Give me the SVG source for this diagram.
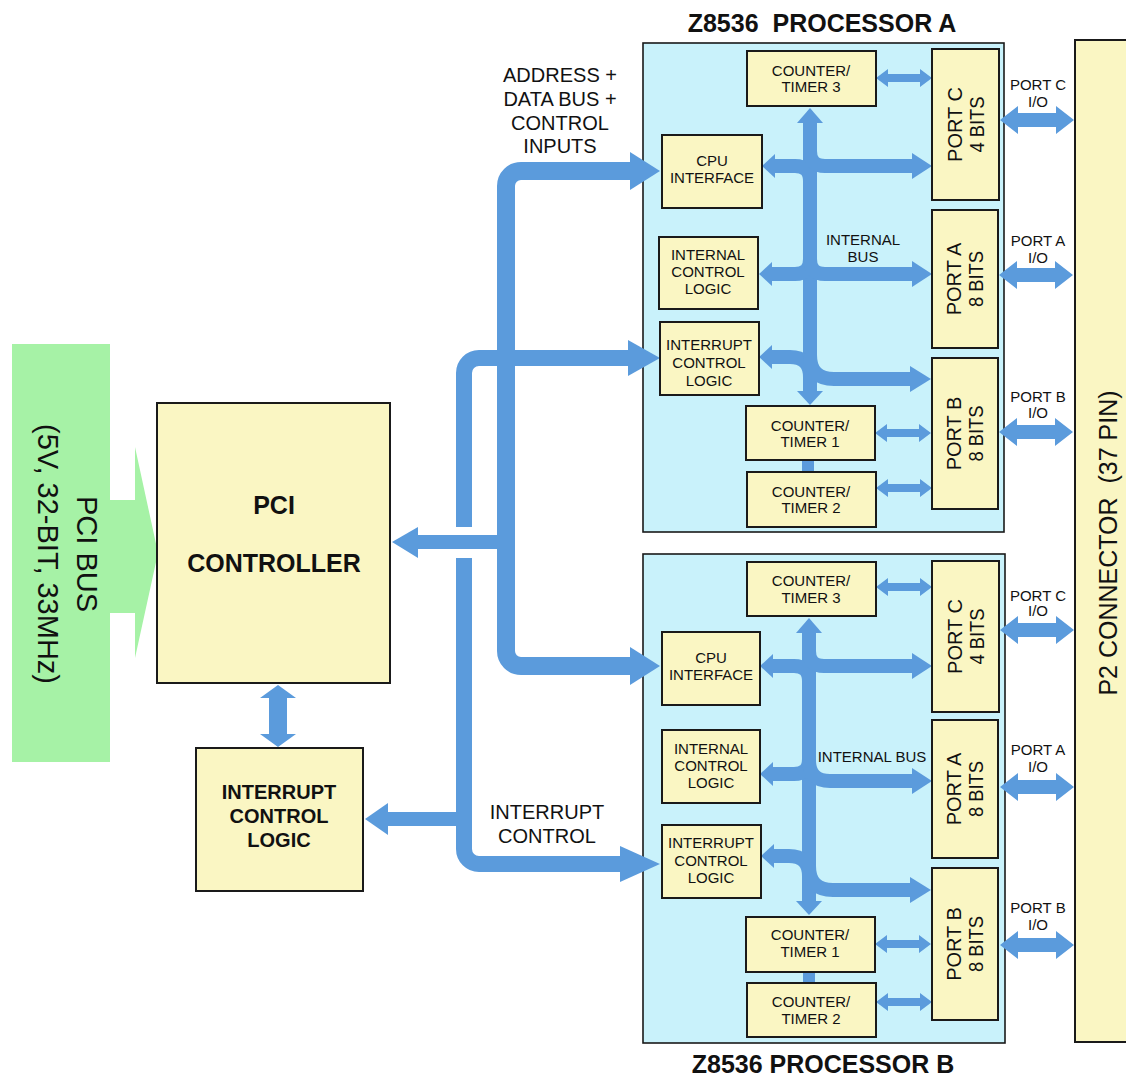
<svg xmlns="http://www.w3.org/2000/svg" width="1126" height="1076" viewBox="0 0 1126 1076">
<style>
.bl{fill:#5b9bdc}
.bus{fill:none;stroke:#5b9bdc}
.box{fill:#faf6c3;stroke:#1a1a1a;stroke-width:2}
.proc{fill:#c9f2fb;stroke:#1a1a1a;stroke-width:1.6}
text{font-family:"Liberation Sans",Arial,Helvetica,sans-serif;fill:#111;text-anchor:middle}
.s{font-size:15px}
.p{font-size:20px}
.m{font-size:20px}
.b{font-weight:bold}
</style>
<defs>
<path id="io" d="M0 0 L18 -14 L18 -7 L56 -7 L56 -14 L74 0 L56 14 L56 7 L18 7 L18 14 Z"/>
<path id="sm" d="M0 0 L12 -9 L12 -4 L44 -4 L44 -9 L56 0 L44 9 L44 4 L12 4 L12 9 Z"/>
</defs>
<rect width="1126" height="1076" fill="#ffffff"/>

<g id="pci-bus">
<rect x="12" y="344" width="98" height="418" fill="#a6f2a6"/>
<path d="M110 500 L135 500 L135 447 L158 553 L135 658 L135 613 L110 613 Z" fill="#a6f2a6"/>
<g transform="translate(68,554) rotate(90)">
<text class="p" x="0" y="-9" style="font-size:29px">PCI BUS</text>
<text class="p" x="0" y="30" style="font-size:29px">(5V, 32-BIT, 33MHz)</text>
</g>
</g>

<g id="processor-a-frame">
<rect class="proc" x="643" y="43" width="361" height="489"/>
<text class="b" x="822" y="32" style="font-size:25px" xml:space="preserve">Z8536  PROCESSOR A</text>
</g>
<g id="processor-b-frame">
<rect class="proc" x="643" y="554" width="362" height="489"/>
<text class="b" x="823" y="1073" style="font-size:25px">Z8536 PROCESSOR B</text>
</g>

<g id="connectors">
<!-- trunk A: address/data/control -->
<path class="bus" stroke-width="18" d="M634 171 H521 A15 15 0 0 0 506 186 V651 A15 15 0 0 0 521 666 H634"/>
<polygon class="bl" points="630,152 660,171 630,190"/>
<polygon class="bl" points="630,647 660,666 630,685"/>
<rect class="bl" x="416" y="535" width="82" height="14"/>
<polygon class="bl" points="418,527 392,542 418,558"/>
<!-- trunk B: interrupt -->
<path class="bus" stroke-width="16" d="M632 358 H479 A15 15 0 0 0 464 373 V527"/>
<path class="bus" stroke-width="16" d="M464 558 V849 A15 15 0 0 0 479 864 H624"/>
<polygon class="bl" points="628,340 660,358 628,376"/>
<polygon class="bl" points="620,846 660,864 620,882"/>
<rect class="bl" x="386" y="812" width="78" height="14"/>
<polygon class="bl" points="388,803 365,819 388,835"/>
<!-- PCI controller <-> interrupt logic -->
<path class="bl" d="M278 685 L296 698 L287 698 L287 734 L296 734 L278 747 L260 734 L269 734 L269 698 L260 698 Z"/>

<!-- processor A internal bus -->
<rect class="bl" x="803" y="120" width="14" height="274"/>
<polygon class="bl" points="797,123 810,108 823,123"/>
<polygon class="bl" points="797,391 810,405 823,391"/>
<path class="bus" stroke-width="14" d="M770 166 H795 Q810 166 810 181"/>
<path class="bus" stroke-width="14" d="M810 151 Q810 166 825 166 H914"/>
<polygon class="bl" points="912,153 932,166 912,179"/>
<polygon class="bl" points="775,154 762,166 775,178"/>
<path class="bus" stroke-width="14" d="M770 274 H795 Q810 274 810 259"/>
<path class="bus" stroke-width="14" d="M810 259 Q810 274 825 274 H914"/>
<polygon class="bl" points="912,261 932,274 912,287"/>
<polygon class="bl" points="772,262 759,274 772,286"/>
<path class="bus" stroke-width="14" d="M771 357 H790 Q810 357 810 377"/>
<path class="bus" stroke-width="14" d="M810 355 Q810 379 834 379 H912"/>
<polygon class="bl" points="910,366 931,379 910,392"/>
<polygon class="bl" points="772,345 759,357 772,369"/>
<rect class="bl" x="802" y="459" width="12" height="14"/>
<use href="#sm" class="bl" x="876" y="78"/>
<use href="#sm" class="bl" x="875" y="433"/>
<use href="#sm" class="bl" x="876" y="488"/>
<use href="#io" class="bl" x="1000" y="120"/>
<use href="#io" class="bl" x="999" y="275"/>
<use href="#io" class="bl" x="999" y="432"/>

<!-- processor B internal bus -->
<rect class="bl" x="802" y="630" width="14" height="274"/>
<polygon class="bl" points="796,633 809,618 822,633"/>
<polygon class="bl" points="796,901 809,915 822,901"/>
<path class="bus" stroke-width="14" d="M770 666 H794 Q809 666 809 681"/>
<path class="bus" stroke-width="14" d="M809 651 Q809 666 824 666 H914"/>
<polygon class="bl" points="912,653 932,666 912,679"/>
<polygon class="bl" points="773,654 760,666 773,678"/>
<path class="bus" stroke-width="14" d="M770 774 H794 Q809 774 809 759"/>
<path class="bus" stroke-width="14" d="M809 760 Q809 781 830 781 H914"/>
<polygon class="bl" points="912,768 932,781 912,794"/>
<polygon class="bl" points="773,762 760,774 773,786"/>
<path class="bus" stroke-width="14" d="M772 856 H789 Q809 856 809 876"/>
<path class="bus" stroke-width="14" d="M809 866 Q809 890 833 890 H912"/>
<polygon class="bl" points="910,877 931,890 910,903"/>
<polygon class="bl" points="774,844 761,856 774,868"/>
<rect class="bl" x="803" y="971" width="12" height="13"/>
<use href="#sm" class="bl" x="876" y="587"/>
<use href="#sm" class="bl" x="875" y="944"/>
<use href="#sm" class="bl" x="876" y="1002"/>
<use href="#io" class="bl" x="1000" y="630"/>
<use href="#io" class="bl" x="1000" y="787"/>
<use href="#io" class="bl" x="1000" y="945"/>
</g>

<g id="labels">
<text class="m" x="560" y="82">ADDRESS +</text>
<text class="m" x="560" y="106">DATA BUS +</text>
<text class="m" x="560" y="130">CONTROL</text>
<text class="m" x="560" y="153">INPUTS</text>
<text class="m" x="547" y="819">INTERRUPT</text>
<text class="m" x="547" y="843">CONTROL</text>
<text class="s" x="863" y="245">INTERNAL</text>
<text class="s" x="863" y="262">BUS</text>
<text class="s" x="872" y="762">INTERNAL BUS</text>
<text class="s" x="1038" y="90">PORT C</text>
<text class="s" x="1038" y="107">I/O</text>
<text class="s" x="1038" y="246">PORT A</text>
<text class="s" x="1038" y="263">I/O</text>
<text class="s" x="1038" y="402">PORT B</text>
<text class="s" x="1038" y="418">I/O</text>
<text class="s" x="1038" y="601">PORT C</text>
<text class="s" x="1038" y="616">I/O</text>
<text class="s" x="1038" y="755">PORT A</text>
<text class="s" x="1038" y="772">I/O</text>
<text class="s" x="1038" y="913">PORT B</text>
<text class="s" x="1038" y="930">I/O</text>
</g>

<g id="pci-controller">
<rect class="box" x="157" y="403" width="233" height="280"/>
<text class="b" x="274" y="514" style="font-size:25px">PCI</text>
<text class="b" x="274" y="572" style="font-size:25px">CONTROLLER</text>
</g>
<g id="interrupt-control-logic">
<rect class="box" x="196" y="748" width="167" height="143"/>
<text class="b" x="279" y="799" style="font-size:20px">INTERRUPT</text>
<text class="b" x="279" y="823" style="font-size:20px">CONTROL</text>
<text class="b" x="279" y="847" style="font-size:20px">LOGIC</text>
</g>
<g id="p2-connector">
<rect class="box" x="1075" y="40" width="60" height="1002"/>
<text transform="translate(1108,543) rotate(-90)" x="0" y="9" style="font-size:25px" xml:space="preserve">P2 CONNECTOR  (37 PIN)</text>
</g>

<g id="a-counter-timer-3"><rect class="box" x="747" y="51" width="129" height="55"/><text class="s" x="811" y="76">COUNTER/</text><text class="s" x="811" y="92">TIMER 3</text></g>
<g id="a-cpu-interface"><rect class="box" x="662" y="135" width="100" height="73"/><text class="s" x="712" y="166">CPU</text><text class="s" x="712" y="183">INTERFACE</text></g>
<g id="a-internal-control-logic"><rect class="box" x="659" y="237" width="99" height="72"/><text class="s" x="708" y="260">INTERNAL</text><text class="s" x="708" y="277">CONTROL</text><text class="s" x="708" y="294">LOGIC</text></g>
<g id="a-interrupt-control-logic"><rect class="box" x="660" y="322" width="99" height="73"/><text class="s" x="709" y="350">INTERRUPT</text><text class="s" x="709" y="368">CONTROL</text><text class="s" x="709" y="386">LOGIC</text></g>
<g id="a-counter-timer-1"><rect class="box" x="746" y="406" width="129" height="54"/><text class="s" x="810" y="431">COUNTER/</text><text class="s" x="810" y="447">TIMER 1</text></g>
<g id="a-counter-timer-2"><rect class="box" x="747" y="472" width="129" height="55"/><text class="s" x="811" y="497">COUNTER/</text><text class="s" x="811" y="513">TIMER 2</text></g>
<g id="a-port-c"><rect class="box" x="932" y="49" width="67" height="151"/><g transform="translate(965.5,124.5) rotate(-90)"><text class="p" x="0" y="-4">PORT C</text><text class="p" x="0" y="18" textLength="56" lengthAdjust="spacingAndGlyphs">4 BITS</text></g></g>
<g id="a-port-a"><rect class="box" x="932" y="210" width="66" height="138"/><g transform="translate(965,279) rotate(-90)"><text class="p" x="0" y="-4">PORT A</text><text class="p" x="0" y="18" textLength="56" lengthAdjust="spacingAndGlyphs">8 BITS</text></g></g>
<g id="a-port-b"><rect class="box" x="932" y="358" width="66" height="151"/><g transform="translate(965,433.5) rotate(-90)"><text class="p" x="0" y="-4">PORT B</text><text class="p" x="0" y="18" textLength="56" lengthAdjust="spacingAndGlyphs">8 BITS</text></g></g>

<g id="b-counter-timer-3"><rect class="box" x="747" y="562" width="129" height="54"/><text class="s" x="811" y="586">COUNTER/</text><text class="s" x="811" y="603">TIMER 3</text></g>
<g id="b-cpu-interface"><rect class="box" x="662" y="632" width="98" height="73"/><text class="s" x="711" y="663">CPU</text><text class="s" x="711" y="680">INTERFACE</text></g>
<g id="b-internal-control-logic"><rect class="box" x="662" y="730" width="98" height="73"/><text class="s" x="711" y="754">INTERNAL</text><text class="s" x="711" y="771">CONTROL</text><text class="s" x="711" y="788">LOGIC</text></g>
<g id="b-interrupt-control-logic"><rect class="box" x="662" y="825" width="99" height="73"/><text class="s" x="711" y="848">INTERRUPT</text><text class="s" x="711" y="866">CONTROL</text><text class="s" x="711" y="883">LOGIC</text></g>
<g id="b-counter-timer-1"><rect class="box" x="746" y="917" width="129" height="55"/><text class="s" x="810" y="940">COUNTER/</text><text class="s" x="810" y="957">TIMER 1</text></g>
<g id="b-counter-timer-2"><rect class="box" x="747" y="983" width="129" height="54"/><text class="s" x="811" y="1007">COUNTER/</text><text class="s" x="811" y="1024">TIMER 2</text></g>
<g id="b-port-c"><rect class="box" x="932" y="561" width="67" height="151"/><g transform="translate(965.5,636.5) rotate(-90)"><text class="p" x="0" y="-4">PORT C</text><text class="p" x="0" y="18" textLength="56" lengthAdjust="spacingAndGlyphs">4 BITS</text></g></g>
<g id="b-port-a"><rect class="box" x="932" y="720" width="66" height="138"/><g transform="translate(965,789) rotate(-90)"><text class="p" x="0" y="-4">PORT A</text><text class="p" x="0" y="18" textLength="56" lengthAdjust="spacingAndGlyphs">8 BITS</text></g></g>
<g id="b-port-b"><rect class="box" x="932" y="868" width="66" height="152"/><g transform="translate(965,944) rotate(-90)"><text class="p" x="0" y="-4">PORT B</text><text class="p" x="0" y="18" textLength="56" lengthAdjust="spacingAndGlyphs">8 BITS</text></g></g>
</svg>
